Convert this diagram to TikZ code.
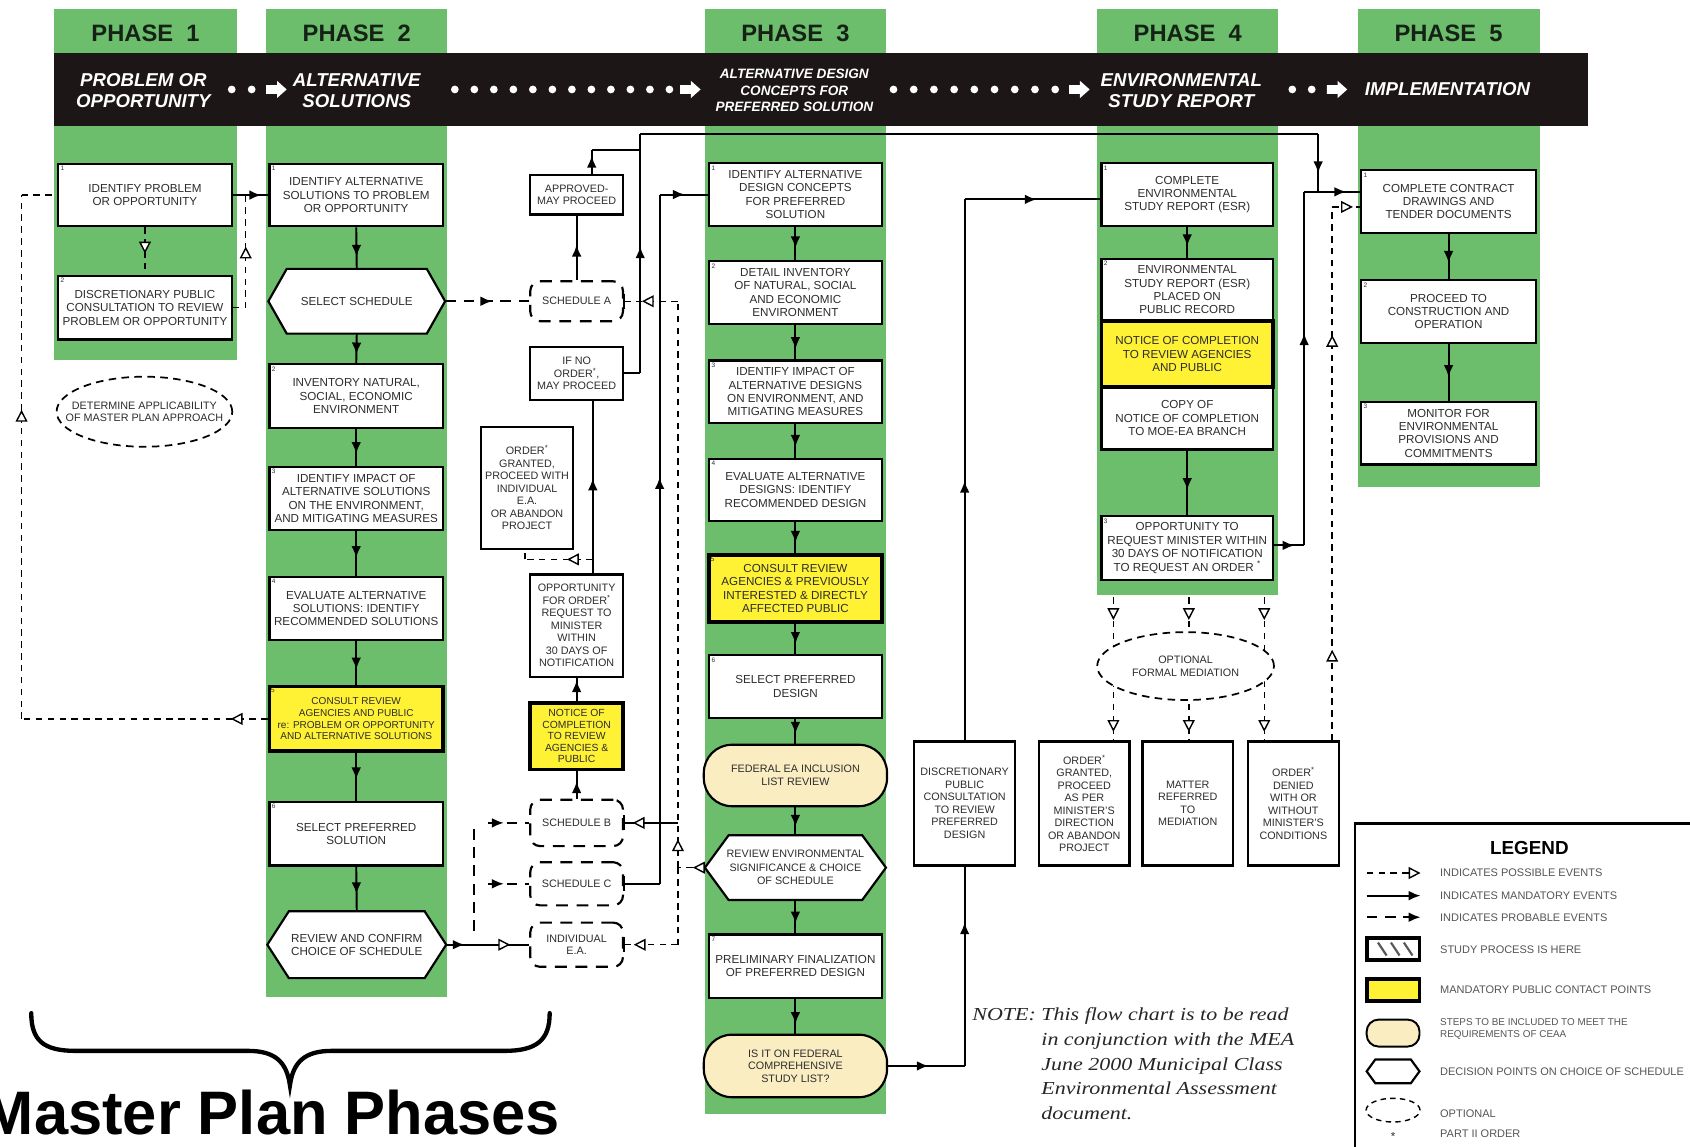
\documentclass[tikz,border=0pt]{standalone}
\usepackage{fontspec}
\setmainfont{Liberation Sans}
\newfontfamily\notefamily[FakeStretch=1.2]{Liberation Serif}
\usetikzlibrary{arrows.meta,decorations.markings,shapes.geometric,calc}
\definecolor{phgreen}{RGB}{108,189,108}
\definecolor{hiyel}{RGB}{255,241,51}
\definecolor{paleyel}{RGB}{250,237,194}
\definecolor{bannerc}{RGB}{28,22,22}
\definecolor{txt}{RGB}{45,45,45}
\definecolor{legtxt}{RGB}{85,85,85}
\definecolor{titlec}{RGB}{22,34,22}
\newcommand\boxfnt{\fontsize{10.8}{12.4}\selectfont}
\newcommand\midfnt{\fontsize{10}{11.6}\selectfont}
\newcommand\smallfnt{\fontsize{9.3}{10.8}\selectfont}
\newcommand\numfnt{\fontsize{6}{7}\selectfont}
\newcommand\legfnt{\fontsize{10.2}{11}\selectfont}
\newcommand\hexshape[7]{% name, cx, cy, w, h, depth, text
  \filldraw[draw=black,fill=white,line width=2pt,line join=miter]
   ({#2-#4/2},#3) -- ({#2-#4/2+#6},{#3-#5/2}) -- ({#2+#4/2-#6},{#3-#5/2}) --
   ({#2+#4/2},#3) -- ({#2+#4/2-#6},{#3+#5/2}) -- ({#2-#4/2+#6},{#3+#5/2}) -- cycle;
  \node[minimum width=#4, minimum height=#5] (#1) at (#2,#3) {#7};}
\tikzset{
 ftip/.tip={Latex[length=11pt,width=9pt]},
 otip/.tip={Triangle[length=11pt,width=11pt,fill=white,line width=1.3pt]},
 mand/.style={draw=black,line width=1.8pt},
 thinl/.style={draw=black,line width=1.3pt},
 poss/.style={draw=black,line width=1.3pt,dash pattern=on 6pt off 5pt},
 prob/.style={draw=black,line width=1.8pt,dash pattern=on 10pt off 7pt},
 fa/.style={postaction={decorate,decoration={markings,mark=at position #1 with {\arrow{ftip}}}}},
 oa/.style={postaction={decorate,decoration={markings,mark=at position #1 with {\arrow{otip}}}}},
 pbox/.style={draw=black,line width=2pt,fill=white,minimum width=161,minimum height=58},
 ybox/.style={draw=black,line width=3.5pt,fill=hiyel,minimum width=161,minimum height=60},
 sbox/.style={draw=black,line width=2pt,fill=white,minimum width=86,font=\midfnt},
 schbox/.style={draw=black,line width=2pt,dash pattern=on 11pt off 8pt,rounded corners=9pt,fill=white,minimum width=86,minimum height=37,font=\midfnt},
 bbox/.style={draw=black,line width=2pt,fill=white,minimum width=84,minimum height=115,font=\midfnt},
 stad/.style={draw=black,line width=2pt,fill=paleyel,rounded corners=26pt,minimum width=170,minimum height=57,font=\midfnt},
 dell/.style={ellipse,draw=black,line width=1.6pt,dash pattern=on 7pt off 5pt,fill=white},
 numlbl/.style={font=\numfnt,anchor=north west,inner sep=3pt,text=txt},
 num/.style={label={[numlbl]north west:#1}},
 phtitle/.style={font=\fontsize{22}{24}\selectfont\bfseries,text=titlec},
 bantxt/.style={font=\fontsize{17.3}{19}\selectfont\bfseries\itshape,text=white},
 legt/.style={anchor=west,text=legtxt,font=\legfnt,align=left},
 notet/.style={font=\notefamily\itshape\fontsize{17}{22.8}\selectfont,text=black!85,align=left},
}
\begin{document}
\begin{tikzpicture}[x=1pt,y=-1pt,every node/.style={font=\boxfnt,text=txt,align=center,inner sep=0pt}]
\useasboundingbox (0,0) rectangle (1568,1064);
\clip (0,0) rectangle (1568,1064);
% ---------- phase columns ----------
\fill[phgreen] (50,8) rectangle (220,334);
\fill[phgreen] (247,8) rectangle (415,925);
\fill[phgreen] (654,8) rectangle (822,1034);
\fill[phgreen] (1018,8) rectangle (1186,552);
\fill[phgreen] (1260,8) rectangle (1429,452);
\node[phtitle] (T1) at (135,31) {PHASE\ \ 1};
\node[phtitle] (T2) at (331,31) {PHASE\ \ 2};
\node[phtitle] (T3) at (738,31) {PHASE\ \ 3};
\node[phtitle] (T4) at (1102,31) {PHASE\ \ 4};
\node[phtitle] (T5) at (1344,31) {PHASE\ \ 5};
% ---------- banner ----------
\fill[bannerc] (50,49) rectangle (1473,117);
\node[bantxt] (N1) at (133,84) {PROBLEM OR\\OPPORTUNITY};
\node[bantxt] (N2) at (331,84) {ALTERNATIVE\\SOLUTIONS};
\node[bantxt,font=\fontsize{12.6}{15.5}\selectfont\bfseries\itshape] (N3) at (737,84) {ALTERNATIVE DESIGN\\CONCEPTS FOR\\PREFERRED SOLUTION};
\node[bantxt] (N4) at (1096,84) {ENVIRONMENTAL\\STUDY REPORT};
\node[bantxt] (N5) at (1343,83) {IMPLEMENTATION};
\foreach \xx in {215,233.5} \fill[white] (\xx,83) circle (3.6pt);
\foreach \k in {0,...,11} \fill[white] ({422+18.1*\k},83) circle (3.6pt);
\foreach \k in {0,...,8} \fill[white] ({829+18.75*\k},83) circle (3.6pt);
\foreach \xx in {1199,1217} \fill[white] (\xx,83) circle (3.6pt);
\foreach \xx in {247,631,992,1231} \fill[white] (\xx,79) -- ++(10,0) -- ++(0,-4) -- ++(9,8) -- ++(-9,8) -- ++(0,-4) -- ++(-10,0) -- cycle;
% ---------- phase 1 ----------
\node[pbox,num=1] (P1B1) at (134.5,181) {IDENTIFY PROBLEM\\OR OPPORTUNITY};
\node[pbox,num=2,minimum height=59] (P1B2) at (134.5,285.5) {DISCRETIONARY PUBLIC\\CONSULTATION TO REVIEW\\PROBLEM OR OPPORTUNITY};
\node[dell,minimum width=163,minimum height=65] (P1E) at (134,382) {};
\node[font=\midfnt] (P1Et) at (P1E.center) {DETERMINE APPLICABILITY\\OF MASTER PLAN APPROACH};
% ---------- phase 2 ----------
\node[pbox,num=1] (P2B1) at (330.5,181) {IDENTIFY ALTERNATIVE\\SOLUTIONS TO PROBLEM\\OR OPPORTUNITY};
\hexshape{P2H1}{331}{279.5}{164}{60}{17}{SELECT SCHEDULE}
\node[pbox,num=2,minimum height=59] (P2B2) at (330.5,367.5) {INVENTORY NATURAL,\\SOCIAL, ECONOMIC\\ENVIRONMENT};
\node[pbox,num=3,minimum height=59] (P2B3) at (330.5,462.5) {IDENTIFY IMPACT OF\\ALTERNATIVE SOLUTIONS\\ON THE ENVIRONMENT,\\AND MITIGATING MEASURES};
\node[pbox,num=4,minimum height=59] (P2B4) at (330.5,564.5) {EVALUATE ALTERNATIVE\\SOLUTIONS: IDENTIFY\\RECOMMENDED SOLUTIONS};
\node[ybox,num=5,font=\smallfnt] (P2B5) at (330.5,667) {CONSULT REVIEW\\AGENCIES AND PUBLIC\\re: PROBLEM OR OPPORTUNITY\\AND ALTERNATIVE SOLUTIONS};
\node[pbox,num=6,minimum height=59] (P2B6) at (330.5,773.5) {SELECT PREFERRED\\SOLUTION};
\hexshape{P2H2}{331}{876.5}{166}{62}{20}{REVIEW AND CONFIRM\\CHOICE OF SCHEDULE}
% ---------- schedules column ----------
\node[sbox,minimum height=37] (APP) at (535,180.5) {APPROVED-\\MAY PROCEED};
\node[schbox] (SA) at (535,279.5) {SCHEDULE A};
\node[sbox,minimum height=49] (IFNO) at (535,346.5) {IF NO\\ORDER\textsuperscript{*},\\MAY PROCEED};
\node[sbox,minimum height=113] (OG1) at (489,452.5) {ORDER\textsuperscript{*}\\GRANTED,\\PROCEED WITH\\INDIVIDUAL\\E.A.\\OR ABANDON\\PROJECT};
\node[sbox,minimum height=95] (OPP) at (535,580.5) {OPPORTUNITY\\FOR ORDER\textsuperscript{*}\\REQUEST TO\\MINISTER\\WITHIN\\30 DAYS OF\\NOTIFICATION};
\node[ybox,minimum width=86,minimum height=62,font=\fontsize{9.6}{10.6}\selectfont] (NOT) at (535,683) {NOTICE OF\\COMPLETION\\TO REVIEW\\AGENCIES \&\\PUBLIC};
\node[schbox,minimum height=43] (SB) at (535,763.5) {SCHEDULE B};
\node[schbox,minimum height=40] (SC) at (535,820) {SCHEDULE C};
\node[schbox,minimum height=41] (IEA) at (535,876.5) {INDIVIDUAL\\E.A.};
\foreach \sn in {SA,SB,SC,IEA} \draw[line width=2.2pt] ([yshift=7pt]\sn.east) -- ([yshift=-7pt]\sn.east);
% ---------- phase 3 ----------
\node[pbox,num=1,minimum width=160] (P3B1) at (738,180.5) {IDENTIFY ALTERNATIVE\\DESIGN CONCEPTS\\FOR PREFERRED\\SOLUTION};
\node[pbox,num=2,minimum width=160] (P3B2) at (738,271.5) {DETAIL INVENTORY\\OF NATURAL, SOCIAL\\AND ECONOMIC\\ENVIRONMENT};
\node[pbox,num=3,minimum width=160] (P3B3) at (738,363.5) {IDENTIFY IMPACT OF\\ALTERNATIVE DESIGNS\\ON ENVIRONMENT, AND\\MITIGATING MEASURES};
\node[pbox,num=4,minimum width=160] (P3B4) at (738,454.5) {EVALUATE ALTERNATIVE\\DESIGNS: IDENTIFY\\RECOMMENDED DESIGN};
\node[ybox,num=5,minimum width=160,minimum height=62] (P3B5) at (738,546) {CONSULT REVIEW\\AGENCIES \& PREVIOUSLY\\INTERESTED \& DIRECTLY\\AFFECTED PUBLIC};
\node[pbox,num=6,minimum width=160] (P3B6) at (738,637) {SELECT PREFERRED\\DESIGN};
\node[stad] (P3S1) at (738,719.5) {FEDERAL EA INCLUSION\\LIST REVIEW};
\hexshape{P3H}{738}{805}{168}{60}{22}{\midfnt REVIEW ENVIRONMENTAL\\\midfnt SIGNIFICANCE \& CHOICE\\\midfnt OF SCHEDULE}
\node[pbox,num=7,minimum width=160,minimum height=59] (P3B7) at (738,896.5) {PRELIMINARY FINALIZATION\\OF PREFERRED DESIGN};
\node[stad,minimum height=58] (P3S2) at (738,989) {IS IT ON FEDERAL\\COMPREHENSIVE\\STUDY LIST?};
% ---------- phase 4 ----------
\node[pbox,num=1,minimum width=159] (P4B1) at (1101.5,180.5) {COMPLETE\\ENVIRONMENTAL\\STUDY REPORT (ESR)};
\node[pbox,num=2,minimum width=159] (P4B2) at (1101.5,269) {ENVIRONMENTAL\\STUDY REPORT (ESR)\\PLACED ON\\PUBLIC RECORD};
\node[pbox,minimum width=159] (P4C) at (1101.5,388) {COPY OF\\NOTICE OF COMPLETION\\TO MOE-EA BRANCH};
\node[ybox,minimum width=159,minimum height=61] (P4Y) at (1101.5,328.5) {NOTICE OF COMPLETION\\TO REVIEW AGENCIES\\AND PUBLIC};
\node[pbox,num=3,minimum width=159,minimum height=59] (P4B3) at (1101.5,508.5) {OPPORTUNITY TO\\REQUEST MINISTER WITHIN\\30 DAYS OF NOTIFICATION\\TO REQUEST AN ORDER \textsuperscript{*}};
% ---------- phase 5 ----------
\node[pbox,num=1,minimum width=162] (P5B1) at (1344,187) {COMPLETE CONTRACT\\DRAWINGS AND\\TENDER DOCUMENTS};
\node[pbox,num=2,minimum width=162] (P5B2) at (1344,289) {PROCEED TO\\CONSTRUCTION AND\\OPERATION};
\node[pbox,num=3,minimum width=162] (P5B3) at (1344,402) {MONITOR FOR\\ENVIRONMENTAL\\PROVISIONS AND\\COMMITMENTS};
% ---------- bottom row ----------
\node[bbox,minimum width=94] (DPC) at (895,745.5) {DISCRETIONARY\\PUBLIC\\CONSULTATION\\TO REVIEW\\PREFERRED\\DESIGN};
\node[bbox] (OGR) at (1006,745.5) {ORDER\textsuperscript{*}\\GRANTED,\\PROCEED\\AS PER\\MINISTER'S\\DIRECTION\\OR ABANDON\\PROJECT};
\node[bbox] (MR) at (1102,745.5) {MATTER\\REFERRED\\TO\\MEDIATION};
\node[bbox] (OD) at (1200,745.5) {ORDER\textsuperscript{*}\\DENIED\\WITH OR\\WITHOUT\\MINISTER'S\\CONDITIONS};
% ================= connectors =================
% phase 1
\draw[mand,fa=0.8] (P1B1.east) -- (P2B1.west);
\draw[poss,oa=0.55] (P1B1.south) -- (P1B2.north);
\coordinate (c1) at (228,285.5);
\coordinate (c2) at (228,181);
\draw[poss,oa=0.59] (P1B2.east) -- (c1) -- (c2);
\coordinate (L1) at (20,667);
\coordinate (L2) at (20,181);
\draw[poss,oa=0.15] (P2B5.west) -- (L1);
\draw[poss,oa=0.59] (L1) -- (L2);
\draw[poss] (L2) -- (P1B1.west);
% phase 2 chain
\draw[mand,fa=0.71] (P2B1.south) -- (P2H1.north);
\draw[mand,fa=0.7] (P2H1.south) -- (P2B2.north);
\draw[mand,fa=0.68] (P2B2.south) -- (P2B3.north);
\draw[mand,fa=0.6] (P2B3.south) -- (P2B4.north);
\draw[mand,fa=0.65] (P2B4.south) -- (P2B5.north);
\draw[mand,fa=0.55] (P2B5.south) -- (P2B6.north);
\draw[mand,fa=0.62] (P2B6.south) -- (P2H2.north);
% schedules
\draw[prob,fa=0.56] (P2H1.east) -- (SA.west);
\draw[mand,fa=0.55] (SA.north) -- (APP.south);
\coordinate (a2) at (549,139);
\coordinate (a3) at (594,139);
\draw[mand,fa=0.75] (APP.north -| a2) -- (a2);
\draw[mand] (a2) -- (a3);
\coordinate (b1) at (594,346.5);
\coordinate (b2) at (594,124);
\coordinate (b3) at (1223,124);
\coordinate (b4) at (1223,178);
\draw[mand] (IFNO.east) -- (b1);
\draw[mand,fa=0.53] (b1) -- (b2);
\draw[mand] (b2) -- (b3);
\draw[mand,fa=0.68] (b3) -- (b4);
\coordinate (s1) at (612,820);
\coordinate (s2) at (612,180.5);
\draw[mand] (SC.east) -- (s1);
\draw[mand,fa=0.59] (s1) -- (s2);
\draw[mand,fa=0.52] (s2) -- (P3B1.west);
\coordinate (d0) at (629,805);
\coordinate (dA) at (629,279.5);
\coordinate (dB) at (629,763.5);
\coordinate (dI) at (629,876.5);
\draw[poss,oa=0.44] (P3H.west) -- (d0);
\draw[poss,oa=0.05] (d0) -- (dA);
\draw[poss,oa=0.67] (dA) -- (SA.east);
\draw[poss] (d0) -- (dI);
\draw[poss,oa=0.82] (dI) -- (IEA.east);
\draw[thinl,oa=0.84] (dB) -- (SB.east);
\draw[mand,postaction={decorate,decoration={markings,mark=at position 0.22 with {\arrow{ftip}},mark=at position 0.77 with {\arrow{otip}}}}] (P2H2.east) -- (IEA.west);
\coordinate (p0) at (440,864);
\coordinate (pB) at (440,763.5);
\draw[prob] (p0) -- (pB);
\coordinate (qB) at (453,763.5);
\coordinate (qC) at (453,820);
\draw[prob,fa=0.38] (qB) -- (SB.west);
\draw[prob,fa=0.38] (qC) -- (SC.west);
\draw[mand,fa=0.9] (NOT.north) -- (OPP.south);
\draw[mand,fa=0.64] (SB.north) -- (NOT.south);
\coordinate (o1) at (550,533);
\draw[thinl,fa=0.55] (OPP.north -| o1) -- (IFNO.south -| o1);
\coordinate (g1) at (550,519);
\coordinate (g2) at (487,519);
\draw[poss,oa=0.38] (g1) -- (g2);
\draw[poss] (g2) -- (OG1.south -| g2);
% phase 3 chain
\draw[mand,fa=0.64] (P3B1.south) -- (P3B2.north);
\draw[mand,fa=0.7] (P3B2.south) -- (P3B3.north);
\draw[mand,fa=0.68] (P3B3.south) -- (P3B4.north);
\draw[mand,fa=0.66] (P3B4.south) -- (P3B5.north);
\draw[mand,fa=0.66] (P3B5.south) -- (P3B6.north);
\draw[mand,fa=0.6] (P3B6.south) -- (P3S1.north);
\draw[mand,fa=0.7] (P3S1.south) -- (P3H.north);
\draw[mand,fa=0.7] (P3H.south) -- (P3B7.north);
\draw[mand,fa=0.72] (P3B7.south) -- (P3S2.north);
\coordinate (e1) at (895,989);
\coordinate (e2) at (895,185);
\draw[mand,fa=0.53] (P3S2.east) -- (e1);
\draw[mand,fa=0.72] (e1) -- (DPC.south);
\draw[mand,fa=0.48] (DPC.north) -- (e2);
\draw[mand,fa=0.53] (e2) -- (P4B1.west |- e2);
% phase 4
\draw[mand,fa=0.63] (P4B1.south) -- (P4B2.north);
\draw[mand,fa=0.61] (P4C.south) -- (P4B3.north);
\coordinate (f1) at (1210,506);
\coordinate (f2) at (1210,178);
\draw[mand,fa=0.68] (P4B3.east |- f1) -- (f1);
\draw[mand,fa=0.6] (f1) -- (f2);
\draw[mand,fa=0.75] (f2) -- (P5B1.west |- f2);
\coordinate (h1) at (1236,192);
\draw[poss,postaction={decorate,decoration={markings,mark=at position 0.17 with {\arrow{otip}},mark=at position 0.76 with {\arrow{otip}}}}] (OD.north -| h1) -- (h1);
\draw[poss,oa=0.74] (h1) -- (P5B1.west |- h1);
% phase 5
\draw[mand,fa=0.64] (P5B1.south) -- (P5B2.north);
\draw[mand,fa=0.58] (P5B2.south) -- (P5B3.north);
% mediation
\foreach \mx/\bn in {1033/OGR,1103/MR,1173/OD}{
  \coordinate (mt\bn) at (\mx,554);
  \draw[poss,postaction={decorate,decoration={markings,mark=at position 0.16 with {\arrow{otip}},mark=at position 0.94 with {\arrow{otip}}}}] (mt\bn) -- (\bn.north -| mt\bn);
}
\node[dell,minimum width=164,minimum height=63] (MED) at (1100,618) {};
\node[font=\midfnt] (MEDt) at (MED.center) {OPTIONAL\\FORMAL MEDIATION};
% ---------- note ----------
\node[notet,anchor=north west] (NOTEa) at (902,935) {NOTE:};
\node[notet,anchor=north west] (NOTEb) at (966,935) {This flow chart is to be read\\in conjunction with the MEA\\June 2000 Municipal Class\\Environmental Assessment\\document.};
% ---------- legend ----------
\draw[line width=2pt,fill=white] (1257,764) rectangle (1600,1090);
\node[font=\fontsize{17.5}{19}\selectfont\bfseries,text=black] (LG) at (1419,787) {LEGEND};
\coordinate (la1) at (1268,810); \coordinate (lb1) at (1318,810);
\coordinate (la2) at (1268,831); \coordinate (lb2) at (1318,831);
\coordinate (la3) at (1268,851); \coordinate (lb3) at (1318,851);
\draw[poss,-{otip}] (la1) -- (lb1);
\draw[mand,-{ftip}] (la2) -- (lb2);
\draw[prob,-{ftip}] (la3) -- (lb3);
\node[draw=black,line width=3.5pt,fill=white,minimum width=49,minimum height=21] (LHB) at (1292.5,880.5) {};
\foreach \dx in {-14,-2,10} \draw[line width=2pt,black!65] ([xshift=\dx pt,yshift=6pt]LHB.center) -- ([xshift={\dx pt+8pt},yshift=-6pt]LHB.center);
\node[draw=black,line width=3.5pt,fill=hiyel,minimum width=49,minimum height=21] (LYB) at (1292.5,918.5) {};
\node[draw=black,line width=1.8pt,fill=paleyel,rounded corners=11pt,minimum width=49,minimum height=25] (LST) at (1292.5,958.5) {};
\hexshape{LHX}{1292.5}{994}{49}{22}{8}{}
\node[dell,line width=1.3pt,dash pattern=on 5pt off 4pt,minimum width=50,minimum height=22] (LEL) at (1292.5,1030) {};
\node[font=\boxfnt] (LSTAR) at (1292.5,1054) {*};
\node[legt] (LT1) at (1336,810) {INDICATES POSSIBLE EVENTS};
\node[legt] (LT2) at (1336,831) {INDICATES MANDATORY EVENTS};
\node[legt] (LT3) at (1336,851) {INDICATES PROBABLE EVENTS};
\node[legt] (LT4) at (1336,881) {STUDY PROCESS IS HERE};
\node[legt] (LT5) at (1336,918) {MANDATORY PUBLIC CONTACT POINTS};
\node[legt,font=\fontsize{9.2}{11}\selectfont] (LT6) at (1336,955) {STEPS TO BE INCLUDED TO MEET THE\\REQUIREMENTS OF CEAA};
\node[legt] (LT7) at (1336,994) {DECISION POINTS ON CHOICE OF SCHEDULE};
\node[legt] (LT8) at (1336,1033) {OPTIONAL};
\node[legt] (LT9) at (1336,1052) {PART II ORDER};
% ---------- master plan brace ----------
\draw[line width=4pt,line cap=round] (29,940) .. controls (29,965) and (40,975) .. (70,975) -- (230,975) .. controls (255,975) and (266,985) .. (269,1007) .. controls (272,985) and (283,975) .. (308,975) -- (468,975) .. controls (498,975) and (510,965) .. (510,940);
\node[font=\fontsize{57}{60}\selectfont\bfseries,text=black,anchor=base west] (MPP) at (-16,1053) {Master Plan Phases};
\end{tikzpicture}
\end{document}
